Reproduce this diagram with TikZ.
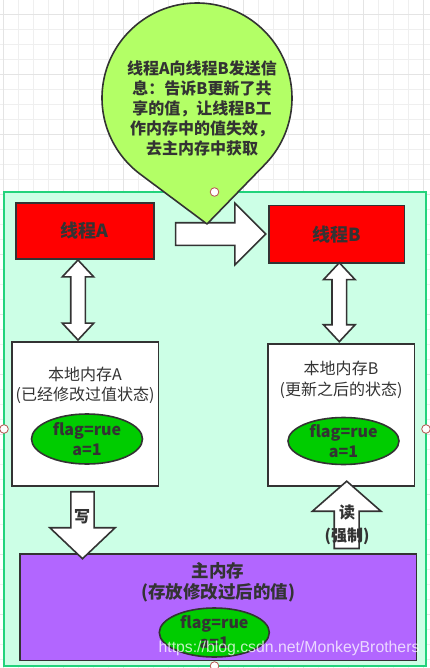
\documentclass[tikz,border=0pt]{standalone}
\usepackage{fontspec}
\usetikzlibrary{shapes.geometric,shapes.arrows}
\newfontfamily\cjk{Noto Sans CJK SC}
\newfontfamily\wmfont{Liberation Sans}
\definecolor{edge}{HTML}{333333}
\definecolor{gridline}{HTML}{EFEFEF}
\definecolor{gridmajor}{HTML}{E4E4E4}
\definecolor{frame}{RGB}{34,211,124}
\definecolor{mint}{RGB}{204,255,230}
\definecolor{lime}{HTML}{B3FF66}
\definecolor{vargreen}{HTML}{00CC00}
\definecolor{violet}{HTML}{B266FF}
\definecolor{port}{HTML}{B85450}

\tikzset{
	box/.style={draw=edge, line width=1.6pt, inner sep=0pt},
	var/.style={ellipse, draw=edge, line width=1.6pt, fill=vargreen, inner sep=0pt, align=center, text=edge, font=\cjk\bfseries\fontsize{16}{20}\selectfont},
	blk/.style={draw=edge, fill=white, line width=1.6pt, inner xsep=0pt},
	txt/.style={text=edge, align=center, inner sep=0pt},
}

\begin{document}
\begin{tikzpicture}[x=1pt,y=-1pt]
	\useasboundingbox (0,0) rectangle (430,668);
	\fill[white] (0,0) rectangle (430,668);
	% grid
	\foreach \i in {0,...,28} {
		\draw[gridline, line width=0.9pt] (3.3+15*\i,0) -- (3.3+15*\i,668);
	}
	\foreach \i in {0,...,44} {
		\draw[gridline, line width=0.9pt] (0,-1+15*\i) -- (430,-1+15*\i);
	}
	\foreach \i in {0,...,7} {
		\draw[gridmajor, line width=0.9pt] (3.3+60*\i,0) -- (3.3+60*\i,668);
	}
	\foreach \i in {0,...,11} {
		\draw[gridmajor, line width=0.9pt] (0,14+60*\i) -- (430,14+60*\i);
	}
	\draw[frame, fill=mint, line width=2pt] (4,192) rectangle (426,666);

	\node (thrA) at (84.9,230.9) [box, fill=red, minimum width=138pt, minimum height=56pt, text=edge, font=\cjk\bfseries\fontsize{18}{22}\selectfont] {线程A};
	\node (thrB) at (336.5,234.2) [box, fill=red, minimum width=135.6pt, minimum height=57pt, text=edge, font=\cjk\bfseries\fontsize{18}{22}\selectfont] {线程B};

	\node (locA) at (85,413.9) [box, fill=white, minimum width=146.6pt, minimum height=144.3pt] {};
	\node (locAtxt) at (85,385) [txt, font=\cjk\fontsize{16}{20}\selectfont] {本地内存A\\(已经修改过值状态)};
	\node (varA) at (87,439) [var, minimum width=111pt, minimum height=50pt] {flag=rue\\a=1};

	\node (locB) at (341,415) [box, fill=white, minimum width=146.6pt, minimum height=142pt] {};
	\node (locBtxt) at (341,379.5) [txt, font=\cjk\fontsize{16}{21}\selectfont] {本地内存B\\(更新之后的状态)};
	\node (varB) at (343.5,441) [var, minimum width=111pt, minimum height=46pt] {flag=rue\\a=1};

	\node (main) at (218.3,607.3) [box, fill=violet, minimum width=396.7pt, minimum height=106.7pt] {};
	\node (maintxt) at (218,582.5) [txt, font=\cjk\bfseries\fontsize{17.5}{21}\selectfont] {主内存\\(存放修改过后的值)};
	\node (varM) at (214.3,632.5) [var, minimum width=110pt, minimum height=49pt] {flag=rue\\a=1};

	% block arrows
	\node (send) at (215,234) [blk, single arrow, minimum height=90pt, minimum width=60pt, inner ysep=10.5pt, single arrow head extend=19.5pt] {};
	\node (linkA) at (78,300) [blk, double arrow, rotate=90, minimum height=80pt, minimum width=30pt, inner ysep=6.5pt, double arrow head extend=8.5pt, double arrow tip angle=86] {};
	\node (linkB) at (339.3,302.2) [blk, double arrow, rotate=90, minimum height=79pt, minimum width=30pt, inner ysep=6.5pt, double arrow head extend=8.5pt, double arrow tip angle=86] {};
	\node (write) at (82.5,519.7) [blk, single arrow, rotate=-90, minimum height=67pt, minimum width=63.6pt, inner ysep=10.8pt, single arrow head extend=21pt, single arrow tip angle=93] {};
	\node (read) at (346.7,520.3) [blk, single arrow, rotate=90, minimum height=67.3pt, minimum width=67pt, inner ysep=11.65pt, single arrow head extend=21.85pt, single arrow tip angle=97.6] {};
	\node (writetxt) at (82,516.7) [txt, font=\cjk\bfseries\fontsize{16}{20}\selectfont] {写};
	\node (readtxt) at (347,525) [txt, font=\cjk\bfseries\fontsize{16}{23}\selectfont] {读\\(强制)};

	% callout
	\coordinate (bc) at (197,98);
	\coordinate (tip) at (207,224);
	\draw[edge, fill=lime, line width=1.6pt, line join=round] (tip) -- ([shift={(bc)}]-44.19:95pt) arc[start angle=-44.19, end angle=233.27, radius=95pt] -- cycle;
	\node (msg) at (202,108) [txt, font=\cjk\bfseries\fontsize{16}{20}\selectfont] {线程A向线程B发送信\\息：告诉B更新了共\\享的值，让线程B工\\作内存中的值失效，\\去主内存中获取};

	\node (mark) at (289,648) [inner sep=0pt, text=white, text opacity=0.75, font=\wmfont\fontsize{15.8}{18}\selectfont] {https://blog.csdn.net/MonkeyBrothers};

	\foreach \p in {(4,429),(426,429),(214.5,192),(214.5,666)} {
		\draw[port, fill=white, line width=0.8pt] \p circle[radius=4.3pt];
	}
\end{tikzpicture}
\end{document}
